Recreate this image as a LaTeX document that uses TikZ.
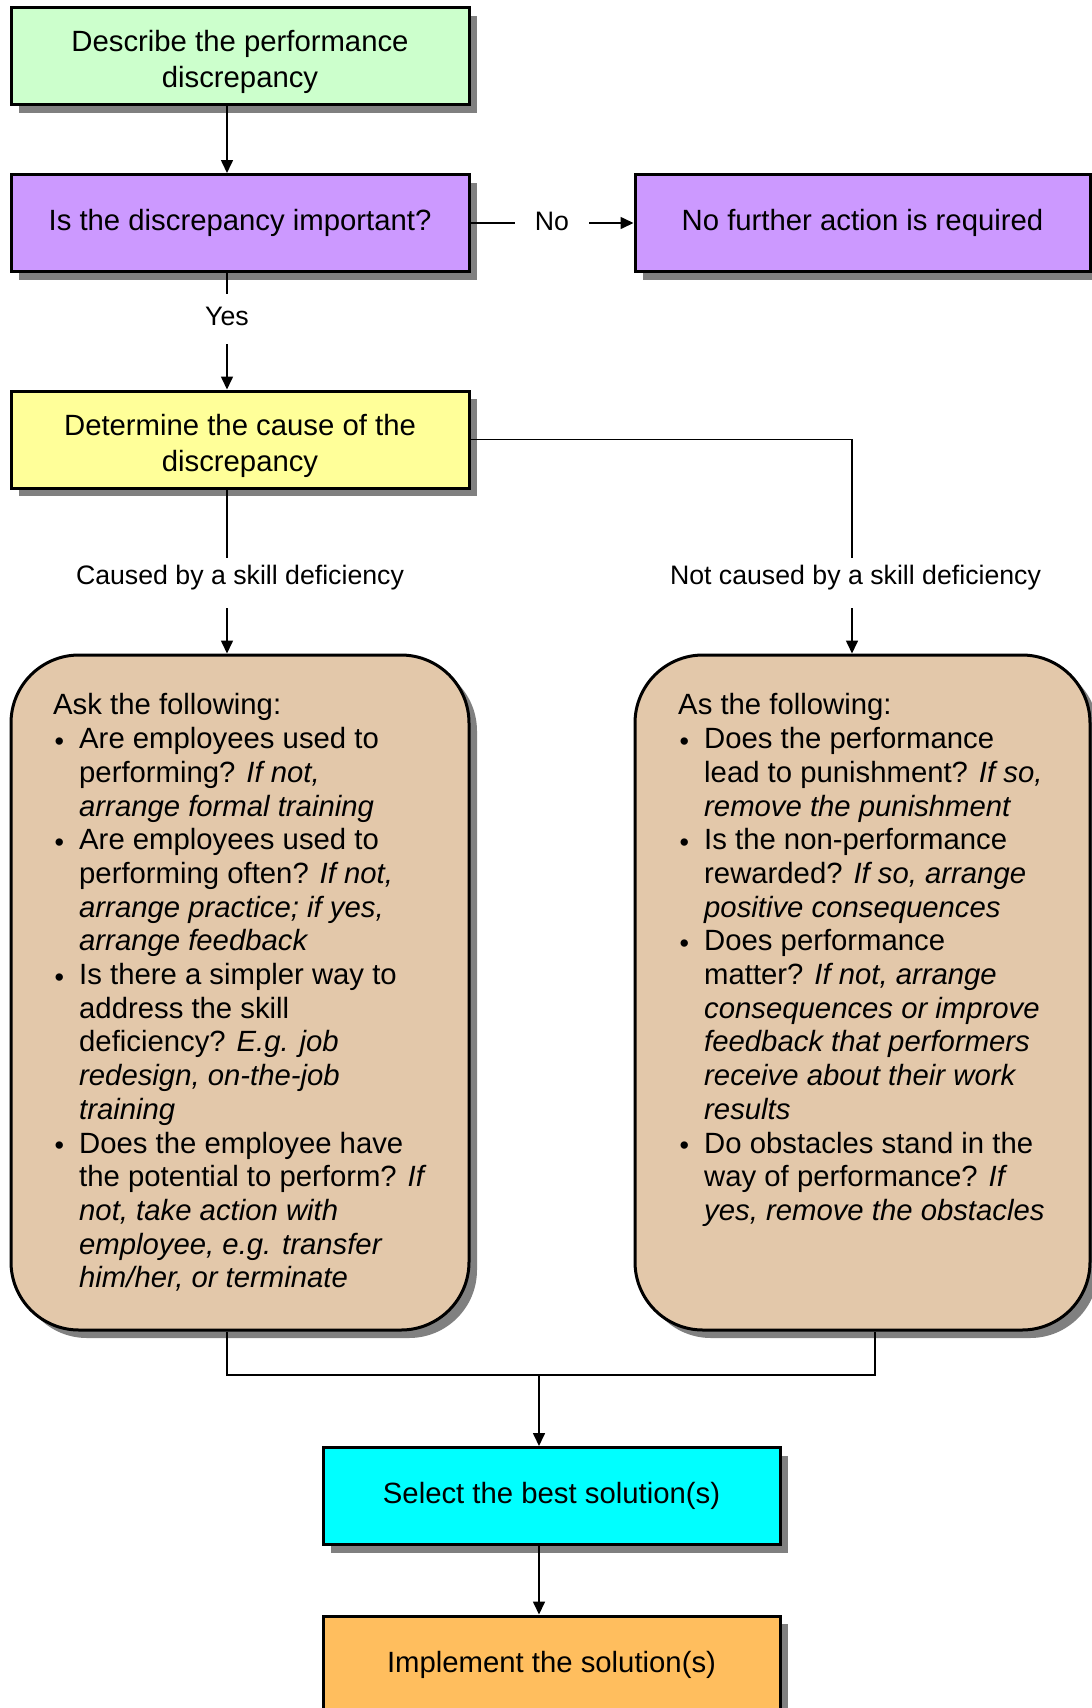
\documentclass[tikz,border=0pt]{standalone}
\usepackage{fontspec}
\setmainfont{Liberation Sans}
\usetikzlibrary{arrows.meta,shadows,calc}

\definecolor{fillgreen}{HTML}{CCFFCC}
\definecolor{fillpurple}{HTML}{CC99FF}
\definecolor{fillyellow}{HTML}{FFFF99}
\definecolor{filltan}{HTML}{E3C8AA}
\definecolor{fillcyan}{HTML}{00FFFF}
\definecolor{fillorange}{HTML}{FFBE5E}
\definecolor{shadowgray}{HTML}{808080}

% bullet and hanging indent for the question lists
\newcommand\bul{\makebox[26pt][l]{\hspace{1.5pt}\raisebox{-1.5pt}{\fontsize{27}{27}\selectfont •}}}
\newcommand\hang{\hspace*{26pt}}

\begin{document}
\begin{tikzpicture}[x=1pt,y=-1pt,
  shadowed/.style={drop shadow={shadow xshift=8pt,shadow yshift=-8pt,fill=shadowgray,opacity=1}},
  box/.style={shadowed,draw=black,line width=3pt,minimum width=458pt,minimum height=97pt,
    inner sep=0pt,align=center,font=\fontsize{29.3}{35.5}\selectfont},
  boxtext/.style={inner sep=0pt,align=center,font=\fontsize{29.3}{35.5}\selectfont},
  listbox/.style={shadowed,draw=black,line width=3pt,rounded corners=68pt,fill=filltan,
    minimum width=458pt,minimum height=675pt,inner sep=0pt},
  listtext/.style={anchor=north west,inner sep=0pt,align=left,font=\fontsize{29.3}{33.7}\selectfont},
  lbl/.style={fill=white,inner sep=0pt,font=\fontsize{26.7}{30}\selectfont},
  conn/.style={line width=1.6pt,draw=black},
  arr/.style={conn,-{Triangle[length=13pt,width=12pt]}}]

\useasboundingbox (0,0) rectangle (1092,1708);

% process boxes
\node[box,fill=fillgreen] (b1) at (240,56) {};
\node[boxtext] (b1t) at (240,62) {Describe the performance\\discrepancy};
\node[box,fill=fillpurple] (b2) at (240,223) {Is the discrepancy important?};
\node[box,fill=fillpurple,minimum width=455pt] (b3) at (862.5,223) {No further action is required};
\node[box,fill=fillyellow] (b4) at (240,439.5) {};
\node[boxtext] (b4t) at (240,446) {Determine the cause of the\\discrepancy};

% question lists
\node[listbox] (L) at (240,992.5) {};
\node[listbox,minimum width=455pt] (R) at (862.5,992.5) {};

\node[listtext] (Ltext) at (53,693.5) {%
Ask the following:\\
\bul Are employees used to\\
\hang performing? \textit{If not,}\\
\hang \textit{arrange formal training}\\
\bul Are employees used to\\
\hang performing often? \textit{If not,}\\
\hang \textit{arrange practice; if yes,}\\
\hang \textit{arrange feedback}\\
\bul Is there a simpler way to\\
\hang address the skill\\
\hang deficiency? \textit{E.g. job}\\
\hang \textit{redesign, on-the-job}\\
\hang \textit{training}\\
\bul Does the employee have\\
\hang the potential to perform? \textit{If}\\
\hang \textit{not, take action with}\\
\hang \textit{employee, e.g. transfer}\\
\hang \textit{him/her, or terminate}};

\node[listtext] (Rtext) at (678,693.5) {%
As the following:\\
\bul Does the performance\\
\hang lead to punishment? \textit{If so,}\\
\hang \textit{remove the punishment}\\
\bul Is the non-performance\\
\hang rewarded? \textit{If so, arrange}\\
\hang \textit{positive consequences}\\
\bul Does performance\\
\hang matter? \textit{If not, arrange}\\
\hang \textit{consequences or improve}\\
\hang \textit{feedback that performers}\\
\hang \textit{receive about their work}\\
\hang \textit{results}\\
\bul Do obstacles stand in the\\
\hang way of performance? \textit{If}\\
\hang \textit{yes, remove the obstacles}};

\node[box,fill=fillcyan,minimum width=457pt] (b5) at (551.5,1496) {Select the best solution(s)};
\node[box,fill=fillorange,minimum width=457pt,minimum height=98pt] (b6) at (551.5,1665) {Implement the solution(s)};

% connector columns
\coordinate (colL) at (227,0);
\coordinate (colR) at (852,0);
\coordinate (colM) at (539,0);
\coordinate (joinR) at (875,0);
\coordinate (joinY) at (0,1375);

\draw[arr] (b1.south -| colL) -- (b2.north -| colL);
\draw[arr] (b2.east) -- node[lbl,inner xsep=20pt,inner ysep=3pt,yshift=2pt] (no) {No} (b3.west);
\draw[arr] (b2.south -| colL) -- (b4.north -| colL);
\node[lbl,text height=31pt,text depth=19pt] (yes) at (227,319) {Yes};

\draw[arr] (b4.south -| colL) -- (L.north -| colL);
\draw[arr] (b4.east) -| (R.north -| colR);
\node[lbl,text height=26.5pt,text depth=23.5pt] (skill) at (240,583) {Caused by a skill deficiency};
\node[lbl,text height=26.5pt,text depth=23.5pt] (noskill) at (855.5,583) {Not caused by a skill deficiency};

\draw[conn] (L.south -| colL) -- (colL |- joinY) -- (joinR |- joinY) -- (R.south -| joinR);
\draw[arr] (colM |- joinY) -- (b5.north -| colM);
\draw[arr] (b5.south -| colM) -- (b6.north -| colM);
\end{tikzpicture}
\end{document}
